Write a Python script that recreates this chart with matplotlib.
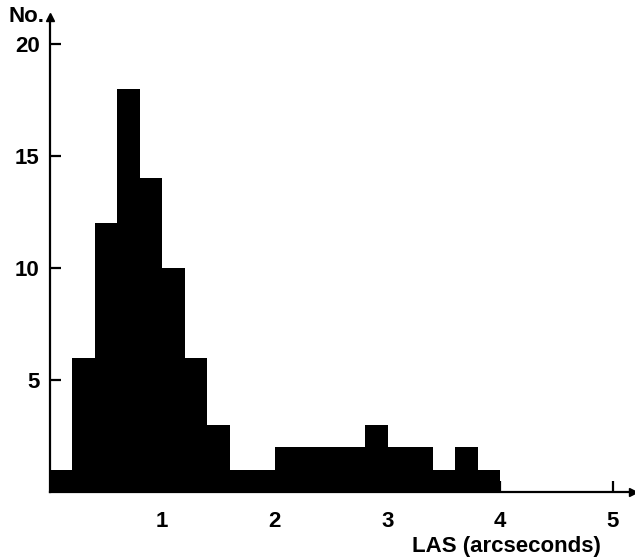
"""
Histogram of largest angular sizes (LAS) with arrowed axes.
"""

import matplotlib
matplotlib.use("Agg")
import matplotlib.pyplot as plt
import numpy as np

# bin edges (arcseconds) and counts per bin
bin_edges = np.round(np.arange(0.0, 4.0001, 0.2), 2)
counts = [1, 6, 12, 18, 14, 10, 6, 3, 1, 1, 2, 2, 2, 2, 3, 2, 2, 1, 2, 1]
x_ticks = [1, 2, 3, 4, 5]
y_ticks = [5, 10, 15, 20]

plt.rcParams.update({
    "font.family": ["Liberation Sans", "DejaVu Sans"],
    "font.weight": "bold",
})

fig = plt.figure(figsize=(6.35, 5.58), dpi=100)
ax = fig.add_axes([0.078, 0.1183, 0.919, 0.851])

ax.stairs(counts, bin_edges, fill=True, color="black", linewidth=0)

ax.set_xlim(0, 5.18)
ax.set_ylim(0, 21.2)

for side in ("top", "right"):
    ax.spines[side].set_visible(False)
for side in ("left", "bottom"):
    ax.spines[side].set_linewidth(1.6)
    ax.spines[side].set_zorder(3)

# arrow heads at the ends of the axes
ax.plot(1, 0, marker=">", color="black", markersize=6,
        transform=ax.transAxes, clip_on=False, zorder=4)
ax.plot(0, 1, marker="^", color="black", markersize=6,
        transform=ax.transAxes, clip_on=False, zorder=4)

ax.set_xticks(x_ticks)
ax.set_yticks(y_ticks)
ax.tick_params(direction="in", length=8, width=1.6, labelsize=16)
ax.tick_params(axis="x", pad=14)
ax.tick_params(axis="y", pad=7)
for lbl in ax.get_xticklabels() + ax.get_yticklabels():
    lbl.set_fontweight("bold")

fig.text(0.014, 0.971, "No.", fontsize=16, fontweight="bold",
         ha="left", va="center")
fig.text(0.797, 0.02, "LAS (arcseconds)", fontsize=16, fontweight="bold",
         ha="center", va="center")

fig.savefig("out.png", dpi=100)
